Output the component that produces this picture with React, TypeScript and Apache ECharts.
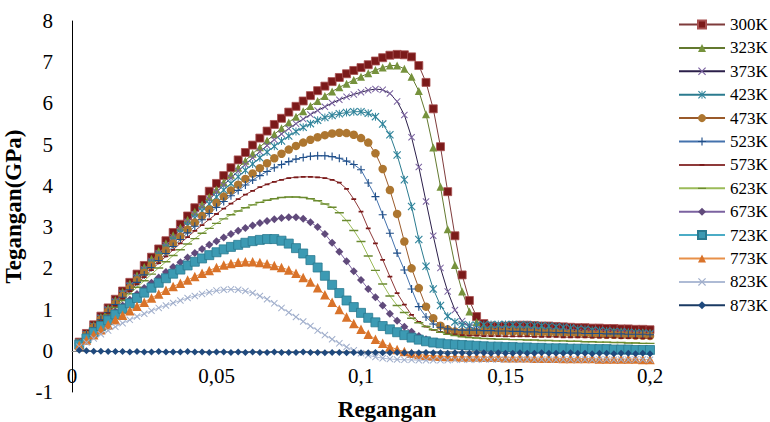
import React, { useEffect, useRef } from "react";
import * as echarts from "echarts";

const strain = [
  0.0025, 0.005, 0.0075, 0.01, 0.0125, 0.015, 0.0175, 0.02, 0.0225, 0.025,
  0.0275, 0.03, 0.0325, 0.035, 0.0375, 0.04, 0.0425, 0.045, 0.0475, 0.05,
  0.0525, 0.055, 0.0575, 0.06, 0.0625, 0.065, 0.0675, 0.07, 0.0725, 0.075,
  0.0775, 0.08, 0.0825, 0.085, 0.0875, 0.09, 0.0925, 0.095, 0.0975, 0.1,
  0.1025, 0.105, 0.1075, 0.11, 0.1125, 0.115, 0.1175, 0.12, 0.1225, 0.125,
  0.1275, 0.13, 0.1325, 0.135, 0.1375, 0.14, 0.1425, 0.145, 0.1475, 0.15,
  0.1525, 0.155, 0.1575, 0.16, 0.1625, 0.165, 0.1675, 0.17, 0.1725, 0.175,
  0.1775, 0.18, 0.1825, 0.185, 0.1875, 0.19, 0.1925, 0.195, 0.1975, 0.2,
];

const seriesNames = ["300K", "323K", "373K", "423K", "473K", "523K", "573K", "623K", "673K", "723K", "773K", "823K", "873K"];

const s300 = [
  0.21, 0.42, 0.63, 0.84, 1.04, 1.25, 1.45, 1.66, 1.86, 2.07,
  2.27, 2.47, 2.67, 2.87, 3.07, 3.27, 3.47, 3.67, 3.87, 4.06,
  4.25, 4.44, 4.63, 4.81, 4.99, 5.16, 5.33, 5.49, 5.64, 5.79,
  5.93, 6.06, 6.19, 6.31, 6.42, 6.53, 6.63, 6.72, 6.80, 6.87,
  6.94, 7.03, 7.11, 7.17, 7.19, 7.18, 7.13, 6.92, 6.51, 5.87,
  4.95, 3.86, 2.79, 1.84, 1.22, 0.83, 0.66, 0.60, 0.59, 0.60,
  0.61, 0.62, 0.62, 0.61, 0.60, 0.60, 0.59, 0.58, 0.57, 0.56,
  0.56, 0.55, 0.55, 0.54, 0.54, 0.53, 0.53, 0.52, 0.52, 0.51,
];
const s323 = [
  0.20, 0.41, 0.62, 0.82, 1.03, 1.23, 1.43, 1.63, 1.83, 2.03,
  2.23, 2.42, 2.61, 2.80, 2.99, 3.18, 3.37, 3.55, 3.73, 3.91,
  4.09, 4.27, 4.44, 4.61, 4.78, 4.94, 5.10, 5.25, 5.40, 5.54,
  5.68, 5.81, 5.94, 6.06, 6.18, 6.29, 6.39, 6.48, 6.57, 6.65,
  6.73, 6.81, 6.87, 6.92, 6.92, 6.84, 6.65, 6.30, 5.74, 4.93,
  3.98, 2.95, 2.08, 1.44, 0.95, 0.70, 0.60, 0.56, 0.55, 0.56,
  0.57, 0.57, 0.56, 0.55, 0.54, 0.53, 0.52, 0.51, 0.50, 0.49,
  0.48, 0.48, 0.47, 0.47, 0.46, 0.46, 0.45, 0.45, 0.45, 0.44,
];
const s373 = [
  0.20, 0.40, 0.60, 0.80, 1.00, 1.20, 1.40, 1.59, 1.79, 1.98,
  2.18, 2.37, 2.56, 2.75, 2.94, 3.13, 3.31, 3.49, 3.67, 3.85,
  4.02, 4.19, 4.36, 4.52, 4.68, 4.83, 4.98, 5.12, 5.26, 5.39,
  5.51, 5.62, 5.73, 5.83, 5.92, 6.01, 6.09, 6.16, 6.22, 6.27,
  6.32, 6.35, 6.33, 6.24, 6.05, 5.72, 5.18, 4.46, 3.62, 2.79,
  2.01, 1.44, 0.99, 0.72, 0.58, 0.52, 0.50, 0.50, 0.51, 0.52,
  0.52, 0.52, 0.51, 0.50, 0.49, 0.48, 0.47, 0.46, 0.45, 0.45,
  0.44, 0.44, 0.43, 0.43, 0.42, 0.42, 0.41, 0.41, 0.40, 0.40,
];
const s423 = [
  0.20, 0.39, 0.59, 0.78, 0.98, 1.17, 1.37, 1.56, 1.75, 1.94,
  2.13, 2.32, 2.50, 2.68, 2.86, 3.04, 3.22, 3.39, 3.56, 3.73,
  3.90, 4.06, 4.22, 4.38, 4.53, 4.68, 4.82, 4.96, 5.09, 5.21,
  5.32, 5.42, 5.51, 5.59, 5.66, 5.71, 5.75, 5.78, 5.80, 5.80,
  5.76, 5.68, 5.50, 5.24, 4.75, 4.15, 3.50, 2.70, 2.05, 1.50,
  1.10, 0.84, 0.70, 0.64, 0.62, 0.62, 0.63, 0.64, 0.64, 0.64,
  0.64, 0.63, 0.63, 0.62, 0.61, 0.60, 0.58, 0.57, 0.55, 0.53,
  0.52, 0.50, 0.49, 0.48, 0.47, 0.46, 0.45, 0.44, 0.43, 0.42,
];
const s473 = [
  0.19, 0.38, 0.57, 0.76, 0.95, 1.14, 1.33, 1.52, 1.71, 1.89,
  2.07, 2.25, 2.43, 2.60, 2.77, 2.94, 3.11, 3.27, 3.43, 3.59,
  3.74, 3.89, 4.03, 4.17, 4.30, 4.43, 4.55, 4.67, 4.78, 4.88,
  4.97, 5.05, 5.12, 5.18, 5.23, 5.27, 5.29, 5.28, 5.24, 5.16,
  5.05, 4.79, 4.41, 3.90, 3.32, 2.65, 2.00, 1.52, 1.07, 0.79,
  0.61, 0.52, 0.47, 0.45, 0.45, 0.45, 0.46, 0.46, 0.46, 0.46,
  0.46, 0.45, 0.45, 0.44, 0.44, 0.43, 0.43, 0.42, 0.42, 0.41,
  0.41, 0.40, 0.40, 0.39, 0.39, 0.38, 0.38, 0.37, 0.37, 0.36,
];
const s523 = [
  0.19, 0.38, 0.56, 0.75, 0.93, 1.12, 1.30, 1.48, 1.66, 1.84,
  2.02, 2.19, 2.36, 2.53, 2.70, 2.86, 3.02, 3.18, 3.33, 3.48,
  3.62, 3.76, 3.89, 4.02, 4.14, 4.25, 4.35, 4.44, 4.52, 4.59,
  4.65, 4.69, 4.72, 4.73, 4.73, 4.71, 4.67, 4.60, 4.52, 4.39,
  4.07, 3.74, 3.30, 2.85, 2.37, 1.96, 1.50, 1.07, 0.82, 0.65,
  0.57, 0.53, 0.51, 0.50, 0.50, 0.50, 0.49, 0.49, 0.48, 0.48,
  0.47, 0.47, 0.46, 0.46, 0.45, 0.45, 0.44, 0.44, 0.43, 0.43,
  0.42, 0.42, 0.42, 0.41, 0.41, 0.41, 0.40, 0.40, 0.40, 0.39,
];
const s573 = [
  0.19, 0.37, 0.55, 0.73, 0.91, 1.09, 1.27, 1.45, 1.62, 1.79,
  1.96, 2.13, 2.29, 2.45, 2.61, 2.76, 2.91, 3.05, 3.19, 3.32,
  3.45, 3.57, 3.68, 3.79, 3.88, 3.97, 4.04, 4.10, 4.15, 4.19,
  4.21, 4.22, 4.22, 4.21, 4.19, 4.15, 4.08, 3.93, 3.68, 3.38,
  2.97, 2.61, 2.21, 1.80, 1.40, 1.12, 0.87, 0.70, 0.59, 0.51,
  0.46, 0.42, 0.40, 0.38, 0.37, 0.37, 0.36, 0.36, 0.36, 0.35,
  0.35, 0.35, 0.35, 0.34, 0.34, 0.34, 0.34, 0.33, 0.33, 0.33,
  0.33, 0.32, 0.32, 0.32, 0.32, 0.31, 0.31, 0.31, 0.30, 0.30,
];
const s623 = [
  0.18, 0.36, 0.54, 0.71, 0.88, 1.05, 1.22, 1.38, 1.54, 1.70,
  1.86, 2.01, 2.16, 2.31, 2.45, 2.59, 2.72, 2.85, 2.97, 3.09,
  3.20, 3.30, 3.39, 3.47, 3.54, 3.60, 3.65, 3.69, 3.72, 3.73,
  3.73, 3.72, 3.69, 3.64, 3.56, 3.48, 3.35, 3.16, 2.92, 2.65,
  2.30, 1.95, 1.62, 1.33, 1.10, 0.93, 0.79, 0.68, 0.59, 0.51,
  0.45, 0.40, 0.37, 0.34, 0.32, 0.31, 0.30, 0.29, 0.28, 0.28,
  0.27, 0.27, 0.26, 0.26, 0.25, 0.25, 0.24, 0.24, 0.23, 0.23,
  0.22, 0.22, 0.21, 0.21, 0.20, 0.20, 0.19, 0.19, 0.18, 0.18,
];
const s673 = [
  0.17, 0.33, 0.49, 0.65, 0.80, 0.95, 1.10, 1.24, 1.38, 1.52,
  1.65, 1.78, 1.91, 2.03, 2.15, 2.26, 2.37, 2.47, 2.57, 2.66,
  2.75, 2.83, 2.91, 2.98, 3.04, 3.10, 3.15, 3.19, 3.22, 3.24,
  3.24, 3.20, 3.12, 3.00, 2.83, 2.62, 2.40, 2.17, 1.93, 1.72,
  1.50, 1.30, 1.10, 0.90, 0.73, 0.58, 0.46, 0.36, 0.28, 0.22,
  0.18, 0.15, 0.13, 0.12, 0.11, 0.10, 0.10, 0.09, 0.09, 0.08,
  0.08, 0.07, 0.07, 0.06, 0.06, 0.05, 0.05, 0.04, 0.04, 0.03,
  0.03, 0.03, 0.02, 0.02, 0.02, 0.01, 0.01, 0.01, 0.00, 0.00,
];
const s723 = [
  0.15, 0.30, 0.45, 0.60, 0.74, 0.88, 1.02, 1.15, 1.28, 1.41,
  1.53, 1.65, 1.76, 1.87, 1.97, 2.07, 2.16, 2.24, 2.32, 2.39,
  2.46, 2.52, 2.57, 2.62, 2.66, 2.69, 2.71, 2.71, 2.67, 2.60,
  2.49, 2.36, 2.20, 2.02, 1.82, 1.60, 1.40, 1.22, 1.06, 0.92,
  0.80, 0.69, 0.60, 0.52, 0.45, 0.38, 0.32, 0.27, 0.23, 0.20,
  0.18, 0.16, 0.15, 0.14, 0.13, 0.12, 0.11, 0.10, 0.10, 0.09,
  0.09, 0.08, 0.08, 0.07, 0.07, 0.06, 0.06, 0.06, 0.05, 0.05,
  0.05, 0.04, 0.04, 0.04, 0.03, 0.03, 0.03, 0.02, 0.02, 0.02,
];
const s773 = [
  0.13, 0.26, 0.39, 0.51, 0.63, 0.75, 0.86, 0.97, 1.08, 1.18,
  1.28, 1.38, 1.47, 1.56, 1.64, 1.72, 1.80, 1.88, 1.95, 2.02,
  2.08, 2.12, 2.15, 2.16, 2.16, 2.14, 2.11, 2.07, 2.02, 1.96,
  1.88, 1.78, 1.67, 1.53, 1.36, 1.18, 1.00, 0.82, 0.66, 0.52,
  0.40, 0.28, 0.18, 0.10, 0.03, -0.02, -0.06, -0.09, -0.11, -0.12,
  -0.13, -0.14, -0.14, -0.15, -0.15, -0.15, -0.16, -0.16, -0.16, -0.17,
  -0.17, -0.17, -0.17, -0.18, -0.18, -0.18, -0.18, -0.19, -0.19, -0.19,
  -0.19, -0.19, -0.20, -0.20, -0.20, -0.20, -0.20, -0.20, -0.21, -0.21,
];
const s823 = [
  0.10, 0.20, 0.30, 0.40, 0.49, 0.58, 0.67, 0.75, 0.83, 0.90,
  0.97, 1.04, 1.10, 1.16, 1.22, 1.28, 1.33, 1.38, 1.42, 1.46,
  1.48, 1.49, 1.48, 1.45, 1.40, 1.33, 1.25, 1.15, 1.04, 0.93,
  0.82, 0.71, 0.60, 0.49, 0.38, 0.28, 0.18, 0.09, 0.01, -0.06,
  -0.11, -0.15, -0.18, -0.20, -0.21, -0.22, -0.22, -0.23, -0.23, -0.23,
  -0.23, -0.23, -0.22, -0.22, -0.22, -0.22, -0.21, -0.21, -0.21, -0.21,
  -0.22, -0.21, -0.21, -0.22, -0.21, -0.21, -0.22, -0.21, -0.21, -0.22,
  -0.21, -0.22, -0.21, -0.21, -0.22, -0.21, -0.22, -0.21, -0.21, -0.22,
];
const s873 = [
  0.01, 0.00, -0.01, -0.01, -0.02, -0.02, -0.02, -0.03, -0.02, -0.03,
  -0.03, -0.02, -0.03, -0.03, -0.03, -0.02, -0.03, -0.03, -0.04, -0.03,
  -0.03, -0.04, -0.03, -0.04, -0.03, -0.04, -0.04, -0.03, -0.04, -0.04,
  -0.04, -0.03, -0.04, -0.04, -0.05, -0.04, -0.04, -0.05, -0.04, -0.05,
  -0.05, -0.04, -0.05, -0.05, -0.04, -0.05, -0.05, -0.05, -0.04, -0.05,
  -0.05, -0.06, -0.05, -0.05, -0.06, -0.05, -0.05, -0.06, -0.05, -0.06,
  -0.06, -0.05, -0.06, -0.06, -0.05, -0.06, -0.06, -0.06, -0.05, -0.06,
  -0.06, -0.07, -0.06, -0.06, -0.07, -0.06, -0.06, -0.07, -0.06, -0.07,
];

const seriesValues = [s300, s323, s373, s423, s473, s523, s573, s623, s673, s723, s773, s823, s873];

const yTicks = { min: -1, max: 8, interval: 1 };
const xTicks = { min: 0, max: 0.2, interval: 0.05 };

const X_SYM = "path://M1,0L5,4L9,0L10,1L6,5L10,9L9,10L5,6L1,10L0,9L4,5L0,1Z";
const PLUS_SYM = "path://M4.3,0H5.7V4.3H10V5.7H5.7V10H4.3V5.7H0V4.3H4.3Z";
const STAR_SYM = "path://M1,0L5,4L9,0L10,1L6,5L10,9L9,10L5,6L1,10L0,9L4,5L0,1ZM4.4,0H5.6V10H4.4Z";
const SHORT_DASH = "path://M0,0L0.01,0M2,4H8V6.2H2ZM10,10L9.99,10";
const LONG_DASH = "path://M0,0L0.01,0M0,4.2H10V5.8H0ZM10,10L9.99,10";

const styles = [
  { symbol: "rect", size: 8, line: "#7f3b3b", fill: "#7b1a1a", border: "#a85050", bw: 0.8 },
  { symbol: "triangle", size: 8, line: "#63792f", fill: "#76923c", border: "#76923c", bw: 0 },
  { symbol: X_SYM, size: 7, line: "#2b1f4a", fill: "#7a62a0", border: "#7a62a0", bw: 0 },
  { symbol: STAR_SYM, size: 8, line: "#2b7b8f", fill: "#31859c", border: "#31859c", bw: 0 },
  { symbol: "circle", size: 8.5, line: "#9a5a2a", fill: "#ad7630", border: "#ad7630", bw: 0 },
  { symbol: PLUS_SYM, size: 8, line: "#4472ad", fill: "#1f4e88", border: "#1f4e88", bw: 0 },
  { symbol: SHORT_DASH, size: 8, line: "#8e3a3a", fill: "#7b1a1a", border: "#7b1a1a", bw: 0 },
  { symbol: LONG_DASH, size: 9, line: "#9bbb59", fill: "#6b8a30", border: "#6b8a30", bw: 0 },
  { symbol: "diamond", size: 8, line: "#7b62a0", fill: "#604a7b", border: "#604a7b", bw: 0 },
  { symbol: "rect", size: 9, line: "#4bacc6", fill: "#3c9ab3", border: "#2a7a90", bw: 0.8 },
  { symbol: "triangle", size: 9.5, line: "#e89048", fill: "#d9732a", border: "#d9732a", bw: 0 },
  { symbol: X_SYM, size: 7, line: "#aebbd5", fill: "#a0aecb", border: "#a0aecb", bw: 0 },
  { symbol: "diamond", size: 7, line: "#1a3a63", fill: "#1f497d", border: "#1f497d", bw: 0 },
];

const FONT = "'Liberation Serif', 'Times New Roman', serif";

function fmtX(v: number) {
  const r = parseFloat(v.toFixed(4));
  return r === 0 ? "0" : String(r).replace(".", ",");
}

export default function App() {
  const ref = useRef<HTMLDivElement>(null);
  useEffect(() => {
    if (!ref.current) return;
    const chart = echarts.init(ref.current, null, { renderer: "svg" });
    const series = seriesNames.map((name, i) => {
      const st = styles[i];
      return {
        name,
        type: "line",
        data: strain.map((x, j) => [x, seriesValues[i][j]]),
        symbol: st.symbol,
        symbolSize: st.size,
        showSymbol: true,
        lineStyle: { color: st.line, width: 1 },
        itemStyle: { color: st.fill, borderColor: st.border, borderWidth: st.bw },
        emphasis: { disabled: true },
        silent: true,
      };
    });
    chart.setOption({
      animation: false,
      backgroundColor: "#ffffff",
      textStyle: { fontFamily: FONT },
      grid: { left: 72, right: 120, top: 21, bottom: 30, containLabel: false, outerBoundsMode: "none" },
      legend: {
        orient: "vertical",
        left: 678,
        top: 16,
        padding: 0,
        itemWidth: 46,
        itemHeight: 10,
        itemGap: 6.4,
        data: seriesNames,
        textStyle: { fontFamily: FONT, fontSize: 17, color: "#000" },
        selectedMode: false,
      },
      xAxis: {
        type: "value",
        min: xTicks.min,
        max: xTicks.max,
        interval: xTicks.interval,
        name: "Regangan",
        nameLocation: "middle",
        nameGap: 6,
        nameTextStyle: { fontFamily: FONT, fontSize: 23, fontWeight: "bold", color: "#000", padding: [0, 0, 0, 52] },
        axisLine: { onZero: true, lineStyle: { color: "#868686", width: 1 } },
        axisTick: { show: false },
        axisLabel: { formatter: fmtX, fontFamily: FONT, fontSize: 21, color: "#000", margin: -27 },
        splitLine: { show: false },
      },
      yAxis: {
        type: "value",
        min: yTicks.min,
        max: yTicks.max,
        interval: yTicks.interval,
        name: "Tegangan(GPa)",
        nameLocation: "middle",
        nameRotate: 90,
        nameGap: 38,
        nameTextStyle: { fontFamily: FONT, fontSize: 23, fontWeight: "bold", color: "#000" },
        axisLine: { show: true, lineStyle: { color: "#000", width: 1 } },
        axisTick: { show: false },
        axisLabel: { fontFamily: FONT, fontSize: 21, color: "#000", margin: 19 },
        splitLine: { show: false },
      },
      series,
    });
    return () => chart.dispose();
  }, []);
  return (
    <div
      ref={ref}
      style={{ position: "fixed", left: 0, top: 0, width: 770, height: 422, background: "#fff" }}
    />
  );
}
